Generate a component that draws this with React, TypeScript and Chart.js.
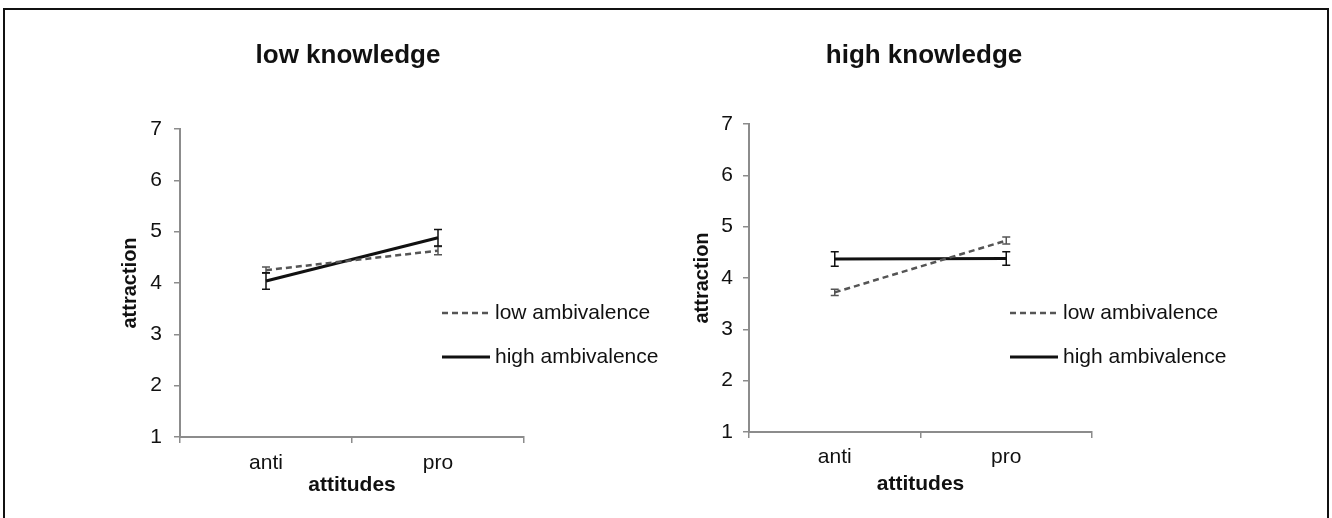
import { useEffect, useRef } from "react";
import { Chart, registerables } from "chart.js";
Chart.register(...registerables);

const categories = ["anti", "pro"];
const yTickValues = [1, 2, 3, 4, 5, 6, 7];
const seriesNames = ["low ambivalence", "high ambivalence"];
const panelTitles = ["low knowledge", "high knowledge"];
const xAxisTitle = "attitudes";
const yAxisTitle = "attraction";

const lowKnowledgeLowAmb = [4.25, 4.63];
const lowKnowledgeLowAmbErr = [0.06, 0.08];
const lowKnowledgeHighAmb = [4.04, 4.88];
const lowKnowledgeHighAmbErr = [0.16, 0.16];

const highKnowledgeLowAmb = [3.72, 4.73];
const highKnowledgeLowAmbErr = [0.06, 0.07];
const highKnowledgeHighAmb = [4.37, 4.38];
const highKnowledgeHighAmbErr = [0.14, 0.13];

const FONT = "'Liberation Sans', Arial, sans-serif";
const TEXT = "#111111";
const AXIS = "#8c8c8c";
const DASHED = "#555555";
const SOLID = "#111111";

type Panel = {
  title: string;
  low: number[];
  lowErr: number[];
  high: number[];
  highErr: number[];
  left: number;
  width: number;
  pad: { left: number; right: number; top: number; bottom: number };
  titleX: number;
  titleY: number;
  legendX: number;
  legendY: number[];
  yTickPad: number;
  yTitlePad: number;
  xTickPad: number;
  xTitlePad: number;
};

const panels: Panel[] = [
  {
    title: panelTitles[0],
    low: lowKnowledgeLowAmb,
    lowErr: lowKnowledgeLowAmbErr,
    high: lowKnowledgeHighAmb,
    highErr: lowKnowledgeHighAmbErr,
    left: 0,
    width: 680,
    pad: { left: 100, right: 156, top: 129, bottom: 16 },
    titleX: 348,
    titleY: 56,
    legendX: 442,
    legendY: [313, 357],
    yTickPad: 12,
    yTitlePad: 18,
    xTickPad: 8,
    xTitlePad: 4,
  },
  {
    title: panelTitles[1],
    low: highKnowledgeLowAmb,
    lowErr: highKnowledgeLowAmbErr,
    high: highKnowledgeHighAmb,
    highErr: highKnowledgeHighAmbErr,
    left: 600,
    width: 732,
    pad: { left: 69, right: 240, top: 124, bottom: 21 },
    titleX: 324,
    titleY: 56,
    legendX: 410,
    legendY: [313, 357],
    yTickPad: 10,
    yTitlePad: 21,
    xTickPad: 7,
    xTitlePad: 0,
  },
];

function PanelChart({ p }: { p: Panel }) {
  const ref = useRef<HTMLCanvasElement | null>(null);
  useEffect(() => {
    if (!ref.current) return;
    const errs = [p.lowErr, p.highErr];
    const errorBars = {
      id: "errorBars",
      afterDatasetsDraw(chart: any) {
        const { ctx } = chart;
        const xs = chart.scales.x;
        const ys = chart.scales.y;
        chart.data.datasets.forEach((ds: any, di: number) => {
          ctx.save();
          ctx.strokeStyle = ds.borderColor;
          ctx.lineWidth = 1.5;
          ctx.setLineDash([]);
          (ds.data as number[]).forEach((v, i) => {
            const e = errs[di][i];
            const x = xs.getPixelForValue(i);
            const y1 = ys.getPixelForValue(v + e);
            const y2 = ys.getPixelForValue(v - e);
            ctx.beginPath();
            ctx.moveTo(x, y1);
            ctx.lineTo(x, y2);
            ctx.moveTo(x - 4, y1);
            ctx.lineTo(x + 4, y1);
            ctx.moveTo(x - 4, y2);
            ctx.lineTo(x + 4, y2);
            ctx.stroke();
          });
          ctx.restore();
        });
      },
    };
    const decor = {
      id: "decor",
      afterDraw(chart: any) {
        const { ctx } = chart;
        ctx.save();
        ctx.fillStyle = TEXT;
        ctx.font = `bold 26px ${FONT}`;
        ctx.textAlign = "center";
        ctx.textBaseline = "middle";
        ctx.fillText(p.title, p.titleX, p.titleY);
        ctx.font = `21px ${FONT}`;
        ctx.textAlign = "left";
        chart.data.datasets.forEach((ds: any, i: number) => {
          const y = p.legendY[i];
          ctx.beginPath();
          ctx.strokeStyle = ds.borderColor;
          ctx.lineWidth = ds.borderWidth;
          ctx.setLineDash(ds.borderDash || []);
          ctx.moveTo(p.legendX, y);
          ctx.lineTo(p.legendX + 48, y);
          ctx.stroke();
          ctx.setLineDash([]);
          ctx.fillText(ds.label, p.legendX + 53, y);
        });
        ctx.restore();
      },
    };
    const chart = new Chart(ref.current, {
      type: "line",
      data: {
        labels: categories,
        datasets: [
          {
            label: seriesNames[0],
            data: p.low,
            borderColor: DASHED,
            borderWidth: 2.5,
            borderDash: [6, 4],
            pointRadius: 0,
            tension: 0,
          },
          {
            label: seriesNames[1],
            data: p.high,
            borderColor: SOLID,
            borderWidth: 3,
            pointRadius: 0,
            tension: 0,
          },
        ],
      },
      options: {
        animation: false,
        responsive: false,
        devicePixelRatio: 1,
        layout: { padding: p.pad },
        plugins: {
          legend: { display: false },
          tooltip: { enabled: false },
          title: { display: false },
        },
        scales: {
          x: {
            type: "category",
            offset: true,
            afterFit: (s: any) => {
              s.height = 65;
            },
            grid: {
              offset: true,
              drawOnChartArea: false,
              drawTicks: true,
              tickLength: 6,
              color: AXIS,
              lineWidth: 1.5,
            },
            border: { display: true, color: AXIS, width: 2 },
            ticks: {
              color: TEXT,
              font: { family: FONT, size: 21 },
              padding: p.xTickPad,
              maxRotation: 0,
            },
            title: {
              display: true,
              text: xAxisTitle,
              color: TEXT,
              font: { family: FONT, size: 21, weight: "bold" },
              padding: { top: 0, bottom: p.xTitlePad },
            },
          },
          y: {
            min: yTickValues[0],
            max: yTickValues[yTickValues.length - 1],
            afterFit: (s: any) => {
              s.width = 80;
            },
            afterBuildTicks: (s: any) => {
              s.ticks = yTickValues.map((v) => ({ value: v }));
            },
            grid: {
              drawOnChartArea: false,
              drawTicks: true,
              tickLength: 6,
              color: AXIS,
              lineWidth: 1.5,
            },
            border: { display: true, color: AXIS, width: 2 },
            ticks: {
              color: TEXT,
              font: { family: FONT, size: 21 },
              padding: p.yTickPad,
            },
            title: {
              display: true,
              text: yAxisTitle,
              color: TEXT,
              font: { family: FONT, size: 20, weight: "bold" },
              padding: { top: p.yTitlePad, bottom: 0 },
            },
          },
        },
      },
      plugins: [errorBars, decor],
    });
    return () => chart.destroy();
  }, [p]);
  return (
    <canvas
      ref={ref}
      width={p.width}
      height={518}
      style={{ position: "absolute", left: p.left, top: 0, width: p.width, height: 518 }}
    />
  );
}

export default function App() {
  return (
    <div
      style={{
        position: "absolute",
        left: 0,
        top: 0,
        width: 1332,
        height: 518,
        background: "#ffffff",
        overflow: "hidden",
      }}
    >
      <div
        style={{
          position: "absolute",
          left: 3,
          top: 8,
          width: 1322,
          height: 600,
          borderTop: "2px solid #111",
          borderLeft: "2px solid #111",
          borderRight: "2px solid #111",
        }}
      />
      {panels.map((p, i) => (
        <PanelChart key={i} p={p} />
      ))}
    </div>
  );
}
